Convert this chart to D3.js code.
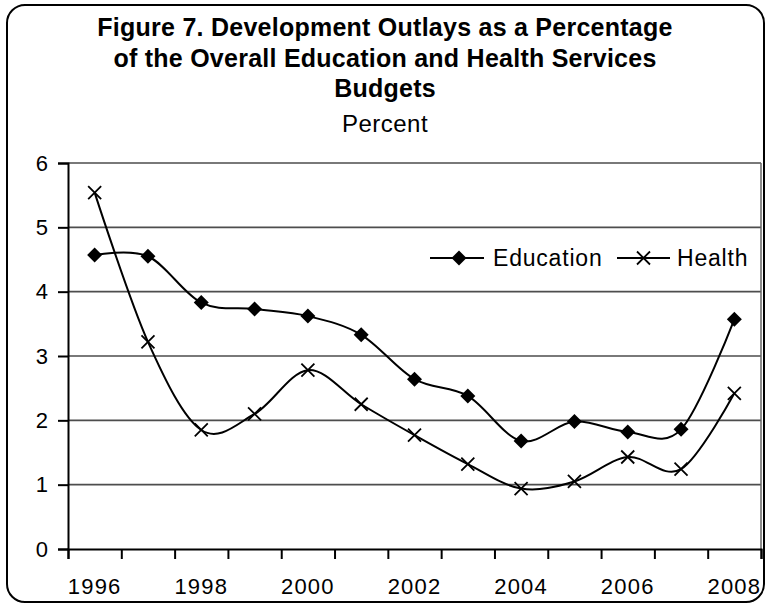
<!DOCTYPE html>
<html>
<head>
<meta charset="utf-8">
<script src="https://cdn.jsdelivr.net/npm/d3@7"></script>
<style>
  html, body { margin: 0; padding: 0; background: #fff; }
  svg { display: block; font-family: "Liberation Sans", Arial, sans-serif; }
</style>
</head>
<body>
<svg id="chart" width="767" height="605"></svg>
<script>
// Development outlays as a share of the sector budgets, 1996-2008 (percent)
const years = ["1996","1997","1998","1999","2000","2001","2002","2003","2004","2005","2006","2007","2008"];
const education = [4.57, 4.55, 3.83, 3.73, 3.62, 3.33, 2.64, 2.38, 1.68, 1.98, 1.82, 1.86, 3.57];
const health    = [5.54, 3.22, 1.85, 2.10, 2.78, 2.25, 1.77, 1.32, 0.94, 1.05, 1.43, 1.24, 2.42];
const yTicks = [0, 1, 2, 3, 4, 5, 6];
const xLabels = ["1996","1998","2000","2002","2004","2006","2008"];
const titleLines = [
  "Figure 7. Development Outlays as a Percentage",
  "of the Overall Education and Health Services",
  "Budgets"
];
const unitLabel = "Percent";

const svg = d3.select("#chart");
const plot = { left: 68, right: 761, top: 163, bottom: 549 };

// outer frame
svg.append("rect")
  .attr("x", 7).attr("y", 5).attr("width", 757).attr("height", 597)
  .attr("rx", 18).attr("ry", 18)
  .attr("fill", "#fff").attr("stroke", "#000").attr("stroke-width", 2);

// title block
const cx = 385;
svg.append("g").selectAll("text").data(titleLines).join("text")
  .attr("x", cx).attr("y", (d, i) => 36 + i * 30.5)
  .attr("text-anchor", "middle")
  .attr("font-size", 25).attr("font-weight", "bold")
  .attr("letter-spacing", 0.25)
  .text(d => d);
svg.append("text")
  .attr("x", cx).attr("y", 132)
  .attr("text-anchor", "middle").attr("font-size", 24)
  .attr("letter-spacing", 0.5)
  .text(unitLabel);

// scales
const x = d3.scaleBand().domain(years).range([plot.left, plot.right]).paddingInner(0).paddingOuter(0);
const xc = d => x(d) + x.bandwidth() / 2;
const y = d3.scaleLinear().domain([0, 6]).range([plot.bottom, plot.top]);

// horizontal gridlines
svg.append("g").selectAll("line").data(yTicks.filter(t => t > 0)).join("line")
  .attr("x1", plot.left).attr("x2", plot.right)
  .attr("y1", d => y(d)).attr("y2", d => y(d))
  .attr("stroke", "#4d4d4d").attr("stroke-width", 1.6);

// right border of the plot area
svg.append("line")
  .attr("x1", plot.right).attr("x2", plot.right)
  .attr("y1", plot.top).attr("y2", plot.bottom)
  .attr("stroke", "#666").attr("stroke-width", 1.5);

// y axis
const yAxis = svg.append("g")
  .attr("transform", `translate(${plot.left},0)`)
  .call(d3.axisLeft(y).tickValues(yTicks).tickSize(10).tickPadding(10).tickFormat(d3.format("d")));
yAxis.select(".domain").attr("stroke", "#000").attr("stroke-width", 2);
yAxis.selectAll(".tick line").attr("stroke", "#000").attr("stroke-width", 2);
yAxis.selectAll(".tick text").attr("font-size", 22).attr("font-family", "Liberation Sans, Arial, sans-serif").attr("fill", "#000");

// x axis: ticks on category boundaries, labels on every other category
const xBound = d3.scaleLinear().domain([0, years.length]).range([plot.left, plot.right]);
const xAxis = svg.append("g")
  .attr("transform", `translate(0,${plot.bottom})`)
  .call(d3.axisBottom(xBound).tickValues(d3.range(0, years.length + 1)).tickSize(10).tickFormat(""));
xAxis.select(".domain").attr("stroke", "#000").attr("stroke-width", 2);
xAxis.selectAll(".tick line").attr("stroke", "#000").attr("stroke-width", 2);

svg.append("g").selectAll("text").data(xLabels).join("text")
  .attr("x", d => xc(d)).attr("y", 594)
  .attr("text-anchor", "middle").attr("font-size", 22)
  .attr("letter-spacing", 1.2)
  .text(d => d);

// smoothed series lines
const line = d3.line()
  .x((d, i) => xc(years[i]))
  .y(d => y(d))
  .curve(d3.curveCatmullRom.alpha(0));

svg.append("path").datum(education)
  .attr("d", line).attr("fill", "none").attr("stroke", "#000").attr("stroke-width", 2);
svg.append("path").datum(health)
  .attr("d", line).attr("fill", "none").attr("stroke", "#000").attr("stroke-width", 2);

// markers
const diamond = (g, px, py, r) => g.append("path")
  .attr("d", `M${px},${py - r}L${px + r},${py}L${px},${py + r}L${px - r},${py}Z`)
  .attr("fill", "#000");
const cross = (g, px, py, r) => g.append("path")
  .attr("d", `M${px - r},${py - r}L${px + r},${py + r}M${px - r},${py + r}L${px + r},${py - r}`)
  .attr("stroke", "#000").attr("stroke-width", 1.8).attr("fill", "none");

const mk = svg.append("g");
education.forEach((v, i) => diamond(mk, xc(years[i]), y(v), 7.5));
health.forEach((v, i) => cross(mk, xc(years[i]), y(v), 6.5));

// legend
const lg = svg.append("g");
const ly = 258;
lg.append("line").attr("x1", 430).attr("x2", 484).attr("y1", ly).attr("y2", ly).attr("stroke", "#000").attr("stroke-width", 2);
diamond(lg, 459, ly, 7.5);
lg.append("text").attr("x", 493).attr("y", ly + 8).attr("font-size", 23).attr("letter-spacing", 0.8).text("Education");
lg.append("line").attr("x1", 617).attr("x2", 670).attr("y1", ly).attr("y2", ly).attr("stroke", "#000").attr("stroke-width", 2);
cross(lg, 643.5, ly, 6.5);
lg.append("text").attr("x", 677).attr("y", ly + 8).attr("font-size", 23).attr("letter-spacing", 0.8).text("Health");
</script>
</body>
</html>
